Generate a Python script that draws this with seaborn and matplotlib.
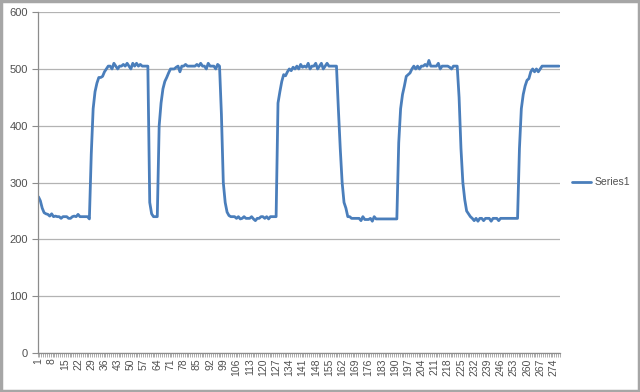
import numpy as np
import pandas as pd
import seaborn as sns
import matplotlib.pyplot as plt
from matplotlib.patches import Rectangle
from matplotlib.ticker import FixedLocator, NullFormatter

# values, one per category (1..277)
low_1 = [275, 268, 255, 247, 245, 244, 241, 245, 240, 241, 240, 240, 237, 240,
         240, 240, 237, 237, 240, 241, 240, 244, 240, 240, 240, 240, 240, 236]
high_1 = [350, 430, 460, 475, 485, 485, 487, 495, 500, 505, 505, 500, 510, 505,
          500, 505, 505, 508, 505, 510, 505, 500, 510, 505, 510, 505, 508, 505,
          505, 505, 505]
low_2 = [265, 245, 240, 240, 240]
high_2 = [400, 440, 465, 478, 485, 493, 500, 500, 500, 503, 505, 495, 505, 505,
          508, 505, 505, 505, 505, 505, 508, 505, 510, 505, 505, 500, 510, 505,
          505, 505, 500, 508, 505]
low_3 = [420, 300, 265, 248, 242, 240, 240, 240, 237, 240, 236, 237, 240, 237,
         237, 237, 240, 236, 233, 237, 237, 240, 240, 237, 240, 236, 240, 240,
         240, 240]
high_3 = [440, 460, 478, 490, 488, 495, 500, 497, 503, 500, 505, 500, 508, 503,
          505, 503, 510, 500, 505, 505, 510, 500, 505, 510, 500, 505, 510, 505,
          505, 505, 505, 505]
low_4 = [430, 360, 300, 265, 255, 240, 240, 237, 237, 237, 237, 237, 233, 240,
         235, 235, 235, 237, 232, 240, 236, 236, 236, 236, 236, 236, 236, 236,
         236, 236, 236, 236]
high_4 = [370, 430, 455, 470, 487, 490, 493, 500, 505, 500, 505, 500, 505, 505,
          508, 505, 515, 505, 505, 505, 505, 510, 500, 505, 505, 505, 505, 503,
          500, 505, 505, 505]
low_5 = [450, 360, 300, 270, 250, 245, 240, 237, 233, 237, 232, 237, 237, 233,
         237, 237, 237, 232, 237, 237, 237, 233, 237, 237, 237, 237, 237, 237,
         237, 237, 237, 237]
high_5 = [360, 430, 455, 470, 480, 483, 495, 500, 495, 500, 495, 500, 505, 505,
          505, 505, 505, 505, 505, 505, 505, 505]

series1 = (low_1 + high_1 + low_2 + high_2 + low_3 + high_3 + low_4 + high_4
           + low_5 + high_5)
categories = list(range(1, len(series1) + 1))
y_ticks = [0, 100, 200, 300, 400, 500, 600]

df = pd.DataFrame({'x': categories, 'Series1': series1})

sns.set_theme(style='white')
plt.rcParams['font.family'] = ['Liberation Sans', 'DejaVu Sans']

fig = plt.figure(figsize=(6.4, 3.92), dpi=100)
ax = fig.add_axes([0.0586, 0.0995, 0.8164, 0.8695])

sns.lineplot(data=df, x='x', y='Series1', ax=ax, color='#4a7ebb',
             linewidth=2.0, label='Series1')

n = len(categories)
ax.set_xlim(0.5, n + 0.5)
ax.set_ylim(0, 600)
ax.set_yticks(y_ticks)
ax.yaxis.grid(True, color='#b3b3b3', linewidth=0.9)
ax.xaxis.grid(False)

# label every 7th category, minor tick marks between every category
ax.set_xticks(categories[::7])
ax.set_xticklabels([str(c) for c in categories[::7]], rotation=90)
ax.xaxis.set_minor_locator(FixedLocator(np.arange(0.5, n + 1, 1.0)))
ax.xaxis.set_minor_formatter(NullFormatter())
ax.tick_params(axis='x', which='major', length=0, pad=4, labelsize=7.5,
               labelcolor='#505050')
ax.tick_params(axis='x', which='minor', length=3, width=0.5, color='#8c8c8c',
               bottom=True)
ax.tick_params(axis='y', which='major', length=4, width=0.8, color='#8c8c8c',
               left=True, pad=3, labelsize=8, labelcolor='#505050')

for side in ['top', 'right']:
    ax.spines[side].set_visible(False)
for side in ['left', 'bottom']:
    ax.spines[side].set_color('#8c8c8c')
    ax.spines[side].set_linewidth(0.9)

ax.set_xlabel('')
ax.set_ylabel('')

leg = ax.legend(loc='center left', bbox_to_anchor=(0.893, 0.535),
                bbox_transform=fig.transFigure, frameon=False, fontsize=7.5,
                handlelength=1.9, handletextpad=0.35, borderpad=0,
                borderaxespad=0)
for t in leg.get_texts():
    t.set_color('#505050')

# chart area border
fig.patches.append(Rectangle((0.002, 0.003), 0.996, 0.994,
                             transform=fig.transFigure, fill=False,
                             edgecolor='#a6a6a6', linewidth=2.5))

fig.savefig('out.png', dpi=100)
